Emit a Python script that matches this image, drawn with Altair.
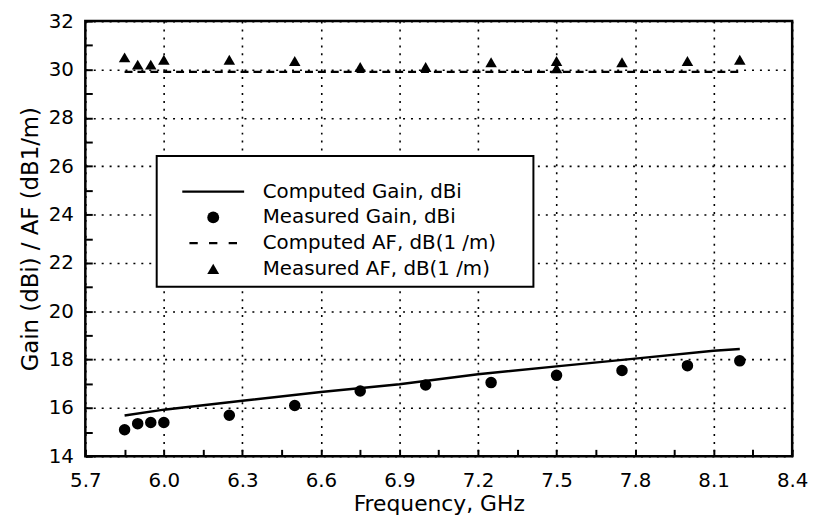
import altair as alt
import pandas as pd

# ---------------- data ----------------
meas_freq = [5.85, 5.90, 5.95, 6.00, 6.25, 6.50, 6.75, 7.00, 7.25, 7.50, 7.75, 8.00, 8.20]
meas_gain = [15.1, 15.35, 15.4, 15.4, 15.7, 16.1, 16.7, 16.95, 17.05, 17.35, 17.55, 17.75, 17.95]

af_freq = [5.85, 5.90, 5.95, 6.00, 6.25, 6.50, 6.75, 7.00, 7.25, 7.50, 7.50, 7.75, 8.00, 8.20]
meas_af = [30.5, 30.2, 30.2, 30.4, 30.4, 30.35, 30.1, 30.1, 30.3, 30.35, 30.05, 30.3, 30.35, 30.4]

calc_freq = [5.85, 6.0, 6.3, 6.6, 6.9, 7.2, 7.5, 7.8, 8.1, 8.2]
calc_gain = [15.69, 15.93, 16.3, 16.66, 16.98, 17.39, 17.72, 18.04, 18.37, 18.44]

calc_af_freq = [5.85, 8.2]
calc_af = [29.9, 29.9]

# tick positions (labelled ones every 0.3 GHz / 2 dB, small ones in between)
x_tick_values = [5.7, 5.85, 6.0, 6.15, 6.3, 6.45, 6.6, 6.75, 6.9, 7.05, 7.2,
                 7.35, 7.5, 7.65, 7.8, 7.95, 8.1, 8.25, 8.4]
y_tick_values = [14, 15, 16, 17, 18, 19, 20, 21, 22, 23, 24, 25, 26, 27, 28, 29, 30, 31, 32]

legend_labels = ["Computed Gain, dBi", "Measured Gain, dBi",
                 "Computed AF, dB(1 /m)", "Measured AF, dB(1 /m)"]
legend_shapes = [
    "M-5.2,-0.2H5.2V0.2H-5.2Z",
    "circle",
    "M-4,-0.2H-2.6V0.2H-4ZM-0.7,-0.2H0.7V0.2H-0.7ZM2.6,-0.2H4V0.2H2.6Z",
    "triangle-up",
]

# ---------------- tables ----------------
df_calc_gain = pd.DataFrame({"freq": calc_freq, "val": calc_gain})
df_calc_af = pd.DataFrame({"freq": calc_af_freq, "val": calc_af})
df_points = pd.concat([
    pd.DataFrame({"freq": meas_freq, "val": meas_gain, "series": legend_labels[1]}),
    pd.DataFrame({"freq": af_freq, "val": meas_af, "series": legend_labels[3]}),
], ignore_index=True)

FONT = "DejaVu Sans"

xs = alt.Scale(domain=[5.7, 8.4], nice=False, zero=False)
ys = alt.Scale(domain=[14, 32], nice=False, zero=False)

x_major = "abs(round(datum.value * 100)) % 30 == 0"
y_major = "datum.value % 2 == 0"

common_axis = dict(
    domain=False, ticks=True, tickSize=7, tickWidth=2, tickColor="black",
    offset=-7, grid=True, gridColor="black", gridDash=[2, 6], gridWidth=1.6,
    labelFont=FONT, labelFontSize=20, labelColor="black", labelFlush=False,
    titleFont=FONT, titleFontWeight="normal", titleColor="black",
)

X = alt.X("freq:Q", scale=xs, title="Frequency, GHz",
          axis=alt.Axis(values=x_tick_values, orient="bottom",
                        labelExpr=f"{x_major} ? format(datum.value, '.1f') : ''",
                        gridOpacity={"condition": {"test": x_major, "value": 1}, "value": 0},
                        labelPadding=14, titlePadding=4, titleFontSize=22,
                        **common_axis))
Y = alt.Y("val:Q", scale=ys, title="Gain (dBi) / AF (dB1/m)",
          axis=alt.Axis(values=y_tick_values, orient="left",
                        labelExpr=f"{y_major} ? format(datum.value, 'd') : ''",
                        gridOpacity={"condition": {"test": y_major, "value": 1}, "value": 0},
                        labelPadding=12, titlePadding=6, titleFontSize=23,
                        **common_axis))

gain_line = alt.Chart(df_calc_gain).mark_line(color="black", strokeWidth=2.5).encode(
    x=X, y=Y)

af_line = alt.Chart(df_calc_af).mark_line(color="black", strokeWidth=2.5,
                                          strokeDash=[8, 5]).encode(x=X, y=Y)

points = alt.Chart(df_points).mark_point(
    filled=True, color="black", size=135, opacity=1
).encode(
    x=X, y=Y,
    shape=alt.Shape("series:N",
                    scale=alt.Scale(domain=legend_labels, range=legend_shapes),
                    legend=alt.Legend(
                        title=" ", titleFontSize=12, titlePadding=6,
                        orient="none", legendX=72, legendY=136,
                        padding=8, strokeColor="black", fillColor="white",
                        symbolSize=144, symbolFillColor="black",
                        symbolOffset=39, labelOffset=40,
                        labelFont=FONT, labelFontSize=20, labelColor="black",
                        rowPadding=6, labelLimit=0,
                        labelExpr="datum.label + '\u2800\u2800'")),
)

chart = alt.layer(gain_line, af_line, points).properties(
    width=713, height=439,
    padding={"left": 78, "top": 11, "right": 18, "bottom": 60},
    autosize=alt.AutoSizeParams(type="none"),
).configure_view(
    stroke="black", strokeWidth=2.5
).configure_legend(
    strokeWidth=2
)

chart.save("out.html", embed_options={"renderer": "svg", "actions": False})
